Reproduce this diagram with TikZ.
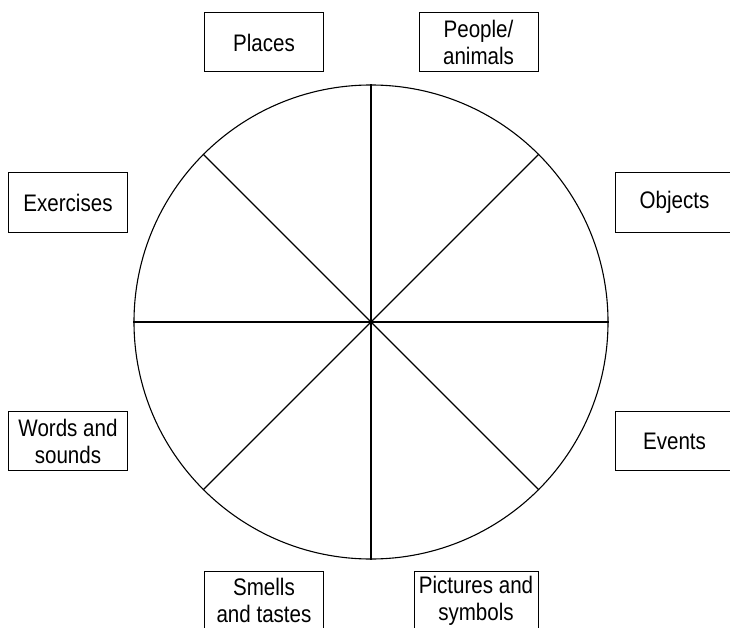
\documentclass[tikz,border=0pt]{standalone}
\usepackage{fontspec}
\setmainfont{Liberation Sans}[FakeStretch=0.86]
\begin{document}
\begin{tikzpicture}[x=1bp, y=-1bp,
    topic/.style={draw, line width=1bp, minimum width=119bp,
        minimum height=59bp, inner sep=0pt, align=center,
        font=\fontsize{24}{27}\selectfont}]
    \useasboundingbox (0,0) rectangle (730,628);
    % the wheel and its eight spokes
    \node[circle, draw, line width=1.1bp, minimum size=474bp, inner sep=0pt]
        (wheel) at (371,322) {};
    \foreach \ang in {0,45,...,315}
        \draw[line width=1.1bp] (wheel.center) -- (wheel.\ang);
    % topic boxes round the wheel
    \node[topic] (places) at (264,42.5) {Places};
    \node[topic] (people) at (478.5,42.5) {People/\\animals};
    \node[topic] (exercises) at (68,202.5) {Exercises};
    \node[topic] (objects) at (674.5,202.5) {Objects};
    \node[topic] (words) at (68,441) {Words and\\sounds};
    \node[topic] (events) at (674.5,441) {Events};
    \node[topic] (smells) at (264,600.5) {Smells\\and tastes};
    \node[topic, minimum width=124bp] (pictures) at (476,600.5) {Pictures and\\symbols};
\end{tikzpicture}
\end{document}
